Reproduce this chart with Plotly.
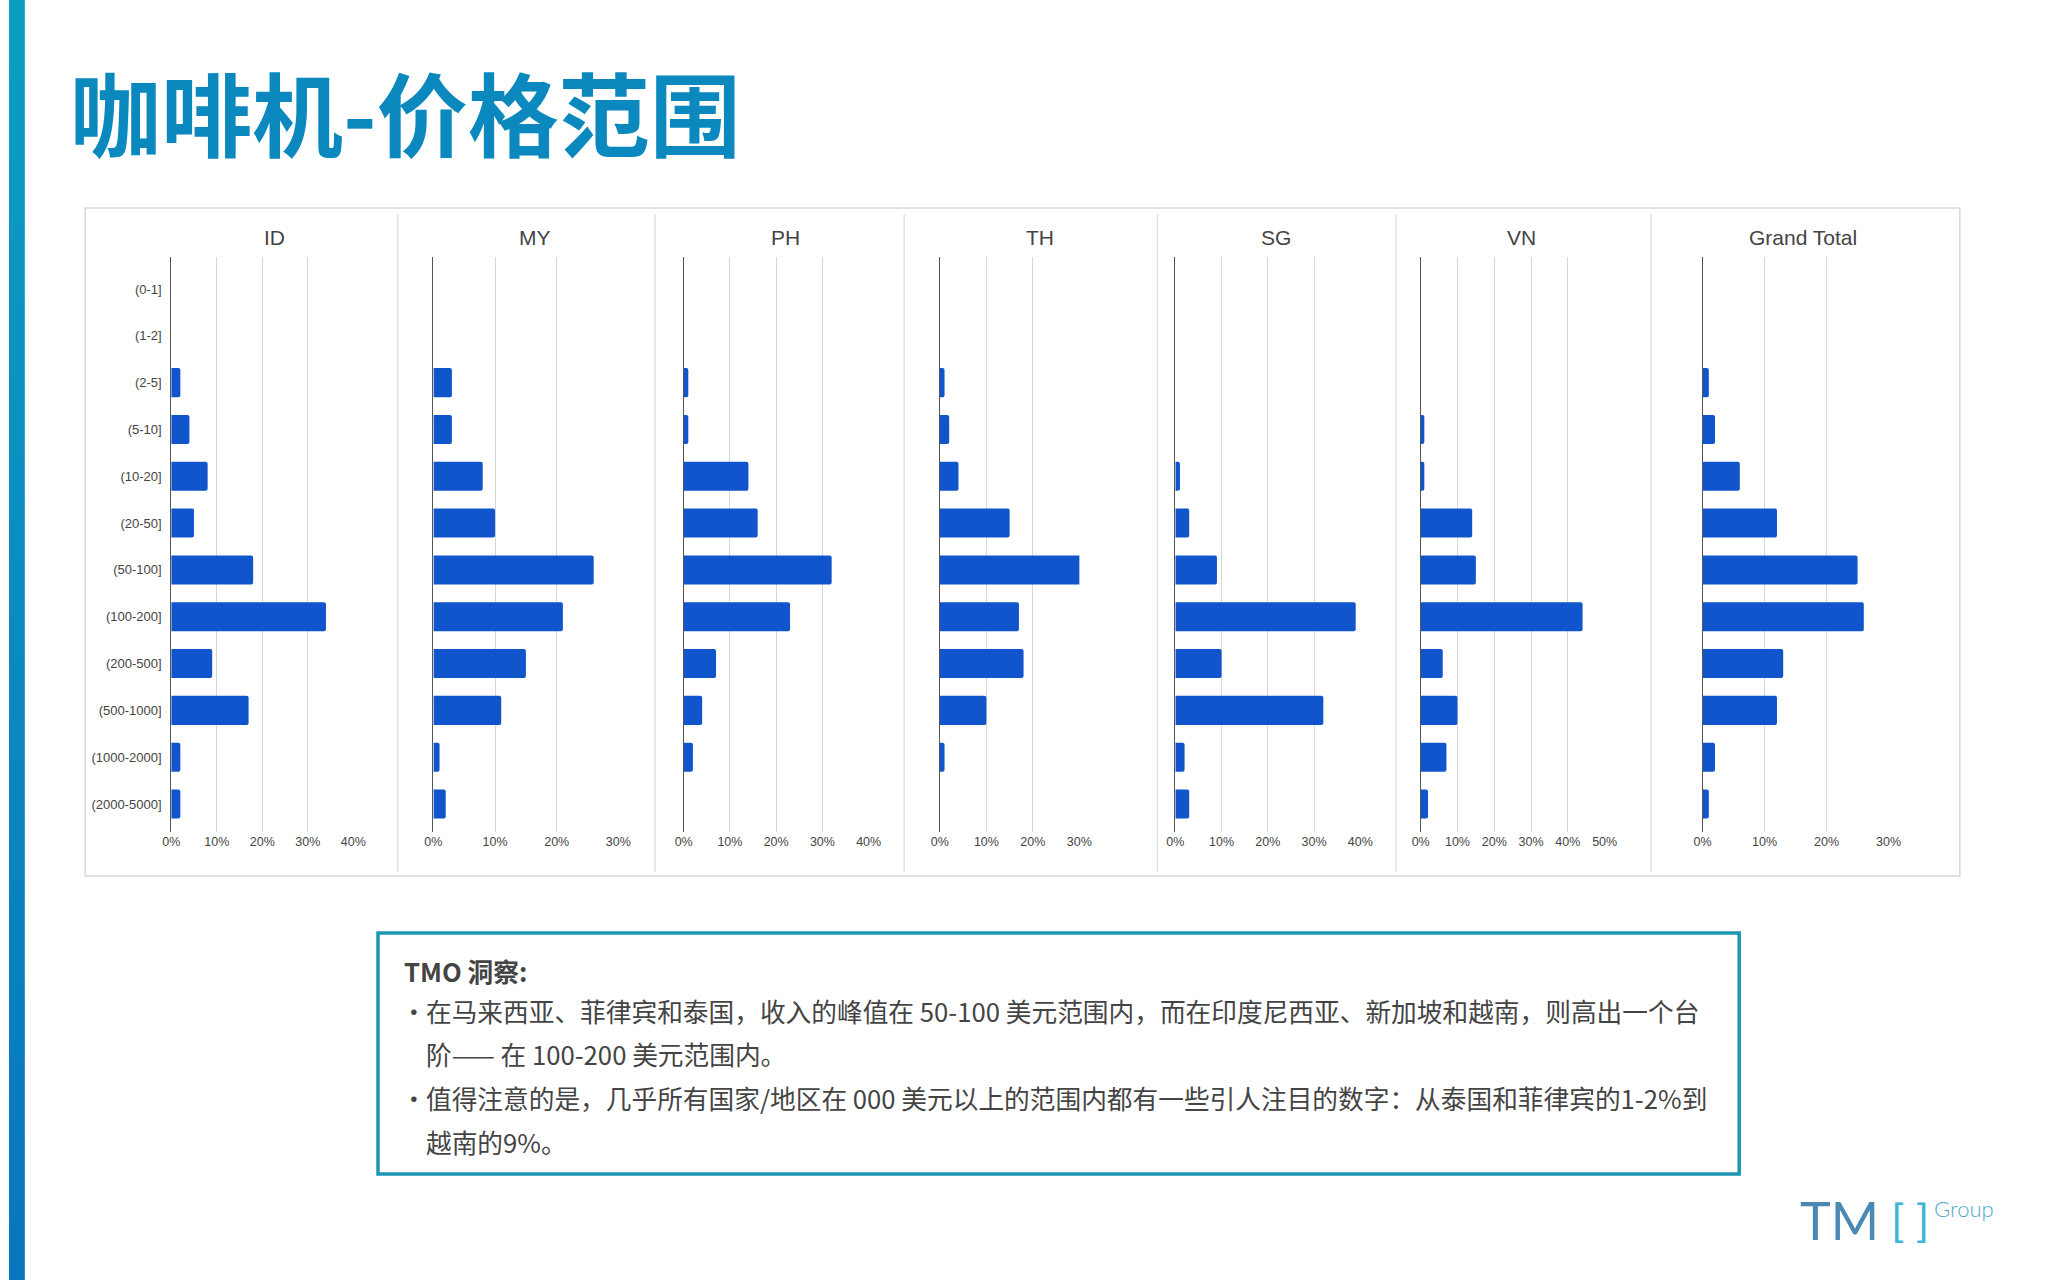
import plotly.graph_objects as go

# price buckets (USD), top to bottom
price_ranges = [
    "(0-1]", "(1-2]", "(2-5]", "(5-10]", "(10-20]", "(20-50]", "(50-100]",
    "(100-200]", "(200-500]", "(500-1000]", "(1000-2000]", "(2000-5000]",
]

# share of listings per bucket, per market
id_share = [0, 0, 0.02, 0.04, 0.08, 0.05, 0.18, 0.34, 0.09, 0.17, 0.02, 0.02]
my_share = [0, 0, 0.03, 0.03, 0.08, 0.10, 0.26, 0.21, 0.15, 0.11, 0.01, 0.02]
ph_share = [0, 0, 0.01, 0.01, 0.14, 0.16, 0.32, 0.23, 0.07, 0.04, 0.02, 0]
th_share = [0, 0, 0.01, 0.02, 0.04, 0.15, 0.31, 0.17, 0.18, 0.10, 0.01, 0]
sg_share = [0, 0, 0, 0, 0.01, 0.03, 0.09, 0.39, 0.10, 0.32, 0.02, 0.03]
vn_share = [0, 0, 0, 0.01, 0.01, 0.14, 0.15, 0.44, 0.06, 0.10, 0.07, 0.02]
total_share = [0, 0, 0.01, 0.02, 0.06, 0.12, 0.25, 0.26, 0.13, 0.12, 0.02, 0.01]

markets = ["ID", "MY", "PH", "TH", "SG", "VN", "Grand Total"]
shares = [id_share, my_share, ph_share, th_share, sg_share, vn_share, total_share]
axis_max = [0.4, 0.3, 0.4, 0.3, 0.4, 0.5, 0.3]

title_text = "咖啡机-价格范围"
insight_title = "TMO 洞察:"
insight_lines = [
    "在马来西亚、菲律宾和泰国，收入的峰值在 50-100 美元范围内，而在印度尼西亚、新加坡和越南，则高出一个台",
    "阶—— 在 100-200 美元范围内。",
    "值得注意的是，几乎所有国家/地区在 000 美元以上的范围内都有一些引人注目的数字：从泰国和菲律宾的1-2%到",
    "越南的9%。",
]

W, H = 2048, 1280
BAR_BLUE = "#1155cc"
TEAL = "#1b97b5"
TEXT_GREY = "#444444"
AXIS_FONT = "Liberation Sans, Arial, sans-serif"
CJK_FONT = "Noto Sans CJK SC, sans-serif"

# pixel layout of each small chart: zero line x, last gridline x, title centre x
plot_px = [(164, 348), (429, 616), (682, 869), (941, 1082), (1179, 1366), (1427, 1613), (1712, 1900)]
title_px = [268, 532, 785, 1042, 1281, 1529, 1813]
plot_top, plot_bottom = 257, 832
first_row_px, last_row_px = 289, 804
row_step = (last_row_px - first_row_px) / (len(price_ranges) - 1)
y_range = [len(price_ranges) - 1 + (plot_bottom - last_row_px) / row_step,
           (plot_top - first_row_px) / row_step]

fig = go.Figure()
layout_axes = {}
for i, (market, share) in enumerate(zip(markets, shares)):
    n = "" if i == 0 else str(i + 1)
    fig.add_trace(go.Bar(
        x=share, y=price_ranges, orientation="h",
        marker=dict(color=BAR_BLUE, line=dict(width=0)),
        width=0.62, xaxis="x" + n, yaxis="y" + n,
        showlegend=False, hoverinfo="skip",
    ))
    x0, x1 = plot_px[i]
    ticks = [k / 10 for k in range(int(round(axis_max[i] * 10)) + 1)]
    layout_axes["xaxis" + n] = dict(
        domain=[x0 / W, x1 / W], anchor="y" + n, range=[0, axis_max[i]],
        tickvals=ticks, ticktext=[f"{int(t * 100)}%" for t in ticks],
        showgrid=True, gridcolor="#d6d6d6", gridwidth=1, zeroline=False,
        showline=False, ticks="", tickfont=dict(family=AXIS_FONT, size=12.5, color=TEXT_GREY),
        fixedrange=True,
    )
    layout_axes["yaxis" + n] = dict(
        domain=[1 - plot_bottom / H, 1 - plot_top / H], anchor="x" + n,
        type="category", categoryorder="array", categoryarray=price_ranges,
        range=y_range, showgrid=False, zeroline=False,
        showline=True, linecolor="#555555", linewidth=1, ticks="",
        showticklabels=(i == 0), ticklabelstandoff=6,
        tickfont=dict(family=AXIS_FONT, size=13, color=TEXT_GREY),
        fixedrange=True,
    )
fig.update_layout(**layout_axes)

shapes = []
# left gradient stripe
steps = 64
top_rgb, bottom_rgb = (11, 158, 194), (10, 118, 189)
for s in range(steps):
    t = s / (steps - 1)
    c = tuple(round(a + (b - a) * t) for a, b in zip(top_rgb, bottom_rgb))
    shapes.append(dict(
        type="rect", xref="paper", yref="paper", x0=0, x1=16 / W,
        y0=1 - (s + 1) / steps, y1=1 - s / steps,
        fillcolor=f"rgb{c}", line=dict(width=0), layer="below",
    ))
# chart frame and separators
shapes.append(dict(type="rect", xref="paper", yref="paper",
                   x0=77 / W, x1=1972 / W, y0=1 - 876 / H, y1=1 - 208 / H,
                   line=dict(color="#d9d9d9", width=1.5), layer="below"))
for sx in [393, 653, 905, 1161, 1402, 1660]:
    shapes.append(dict(type="line", xref="paper", yref="paper",
                       x0=sx / W, x1=sx / W, y0=1 - 872 / H, y1=1 - 214 / H,
                       line=dict(color="#e2e2e2", width=1.5), layer="below"))
# insight box
shapes.append(dict(type="rect", xref="paper", yref="paper",
                   x0=373 / W, x1=1749 / W, y0=1 - 1174 / H, y1=1 - 933 / H,
                   line=dict(color=TEAL, width=3.5), layer="below"))

annotations = [dict(
    text="<b>" + title_text + "</b>", x=60 / W, y=1 - 110 / H, xref="paper", yref="paper",
    xanchor="left", yanchor="middle", showarrow=False,
    font=dict(family=CJK_FONT, size=91, color="#0b89bf"),
)]
for i, market in enumerate(markets):
    annotations.append(dict(
        text=market, x=title_px[i] / W, y=1 - 238 / H, xref="paper", yref="paper",
        xanchor="center", yanchor="middle", showarrow=False,
        font=dict(family=AXIS_FONT, size=21, color=TEXT_GREY),
    ))

annotations.append(dict(
    text="<b>" + insight_title + "</b>", x=397 / W, y=1 - 970 / H, xref="paper", yref="paper",
    xanchor="left", yanchor="middle", showarrow=False,
    font=dict(family=CJK_FONT, size=25.7, color=TEXT_GREY),
))
line_y = [1010, 1053, 1097, 1141]
for k, (txt, ly) in enumerate(zip(insight_lines, line_y)):
    if k in (0, 2):
        annotations.append(dict(
            text="·", x=394 / W, y=1 - ly / H, xref="paper", yref="paper",
            xanchor="left", yanchor="middle", showarrow=False,
            font=dict(family=CJK_FONT, size=25.7, color=TEXT_GREY),
        ))
    annotations.append(dict(
        text=txt, x=420 / W, y=1 - ly / H, xref="paper", yref="paper",
        xanchor="left", yanchor="middle", showarrow=False,
        font=dict(family=CJK_FONT, size=25.7, color=TEXT_GREY),
    ))

# TMO Group logo
annotations += [
    dict(text="TM", x=1808 / W, y=1 - 1220 / H, xref="paper", yref="paper",
         xanchor="left", yanchor="middle", showarrow=False,
         font=dict(family="Lato, sans-serif", size=52, color="#4a89b2", weight=400)),
    dict(text="[ ]", x=1900 / W, y=1 - 1220 / H, xref="paper", yref="paper",
         xanchor="left", yanchor="middle", showarrow=False,
         font=dict(family="Lato, sans-serif", size=44, color="#3db5d3", weight=400)),
    dict(text="Group", x=1944 / W, y=1 - 1208 / H, xref="paper", yref="paper",
         xanchor="left", yanchor="middle", showarrow=False,
         font=dict(family="Lato, sans-serif", size=22, color="#50a9c9", weight=300)),
]

fig.update_layout(
    width=W, height=H, autosize=False,
    margin=dict(l=0, r=0, t=0, b=0),
    paper_bgcolor="white", plot_bgcolor="rgba(0,0,0,0)",
    barcornerradius=2, shapes=shapes, annotations=annotations,
    showlegend=False,
)

# the page has default body margins; drop them so the slide sits flush with the window
flush_page = (
    "document.documentElement.style.margin='0';"
    "document.documentElement.style.padding='0';"
    "document.body.style.margin='0';"
    "document.body.style.padding='0';"
    "document.body.style.overflow='hidden';"
)
fig.write_html("out.html", config={"displayModeBar": False}, post_script=flush_page)
